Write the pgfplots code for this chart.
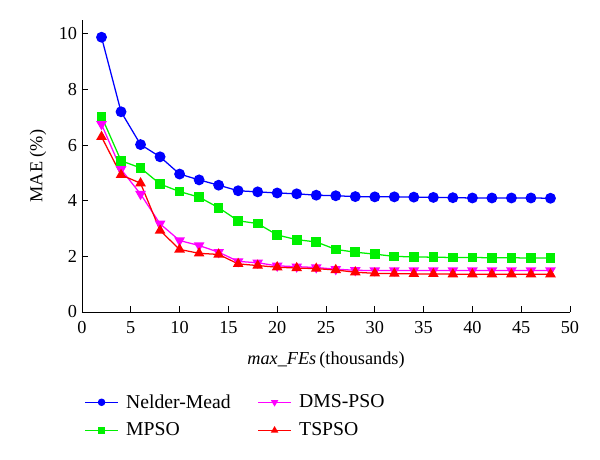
\documentclass[border=0pt]{standalone}
\usepackage{fontspec}
\setmainfont{Liberation Serif}
\usepackage{pgfplots}
\pgfplotsset{compat=1.18}

\definecolor{nmblue}{RGB}{0,0,255}
\definecolor{mpgreen}{RGB}{0,240,0}
\definecolor{dmsmag}{RGB}{255,0,255}
\definecolor{tsred}{RGB}{255,0,0}

\begin{document}
\begin{tikzpicture}
\begin{axis}[
  at={(0,0)}, anchor=origin,
  scale only axis,
  width=12.2cm, height=7.3cm,
  xmin=0, xmax=50, ymin=0, ymax=10.5,
  axis x line*=bottom, axis y line*=left,
  xtick={0,5,...,50}, ytick={0,2,...,10},
  tick align=inside,
  major tick length=0.15cm,
  tick style={black, line width=0.6pt},
  axis line style={line width=0.6pt},
  ticklabel style={font=\fontsize{13}{15}\selectfont},
  xticklabel style={yshift=-3pt},
  /pgf/number format/assume math mode=true,
  xlabel={\textit{max\_FEs}\,(thousands)},
  ylabel={MAE (\%)},
  label style={font=\fontsize{13}{15}\selectfont},
  xlabel style={yshift=-6pt},
  ylabel style={yshift=2pt},
  legend columns=2,
  transpose legend,
  legend cell align=left,
  legend image code/.code={%
    \draw[mark repeat=2,mark phase=2,mark size=2.2pt] plot coordinates {(0cm,0cm) (0.41cm,0cm) (0.82cm,0cm)};},
  legend style={
    at={(rel axis cs:-0.004,-0.262)}, anchor=north west,
    draw=none, fill=none,
    font=\fontsize{14}{16}\selectfont,
    row sep=5pt,
    /tikz/every odd column/.append style={column sep=0.12cm},
    /tikz/every even column/.append style={column sep=0.6cm},
  },
  every axis plot/.append style={line width=0.9pt},
]
\addplot[color=nmblue, mark=*, mark size=3.4pt, mark options={fill=nmblue}] coordinates {
(2,9.88) (4,7.2) (6,6.02) (8,5.58) (10,4.96) (12,4.75) (14,4.56) (16,4.36)
(18,4.32) (20,4.28) (22,4.25) (24,4.2) (26,4.18) (28,4.15) (30,4.14) (32,4.14)
(34,4.13) (36,4.12) (38,4.11) (40,4.1) (42,4.1) (44,4.1) (46,4.1) (48,4.09)
};
\addlegendentry{Nelder-Mead}
\addplot[color=mpgreen, mark=square*, mark size=3.0pt, mark options={fill=mpgreen}] coordinates {
(2,7.03) (4,5.44) (6,5.18) (8,4.6) (10,4.33) (12,4.13) (14,3.75) (16,3.28)
(18,3.18) (20,2.77) (22,2.6) (24,2.52) (26,2.25) (28,2.15) (30,2.08) (32,2.0)
(34,1.98) (36,1.97) (38,1.96) (40,1.96) (42,1.95) (44,1.95) (46,1.94) (48,1.94)
};
\addlegendentry{MPSO}
\addplot[color=dmsmag, mark=triangle*, mark size=3.5pt, mark options={fill=dmsmag, rotate=180}] coordinates {
(2,6.75) (4,5.13) (6,4.24) (8,3.17) (10,2.57) (12,2.39) (14,2.15) (16,1.82)
(18,1.77) (20,1.66) (22,1.63) (24,1.6) (26,1.54) (28,1.5) (30,1.49) (32,1.49)
(34,1.49) (36,1.49) (38,1.49) (40,1.49) (42,1.49) (44,1.49) (46,1.49) (48,1.49)
};
\addlegendentry{DMS-PSO}
\addplot[color=tsred, mark=triangle*, mark size=3.5pt, mark options={fill=tsred}] coordinates {
(2,6.3) (4,4.93) (6,4.63) (8,2.93) (10,2.25) (12,2.11) (14,2.07) (16,1.73)
(18,1.67) (20,1.61) (22,1.58) (24,1.56) (26,1.51) (28,1.43) (30,1.39) (32,1.38)
(34,1.37) (36,1.37) (38,1.36) (40,1.36) (42,1.36) (44,1.36) (46,1.36) (48,1.36)
};
\addlegendentry{TSPSO}
\end{axis}
\path[use as bounding box] (-2.05cm,-3.7cm) rectangle (12.95cm,7.8cm);
\end{tikzpicture}
\end{document}
